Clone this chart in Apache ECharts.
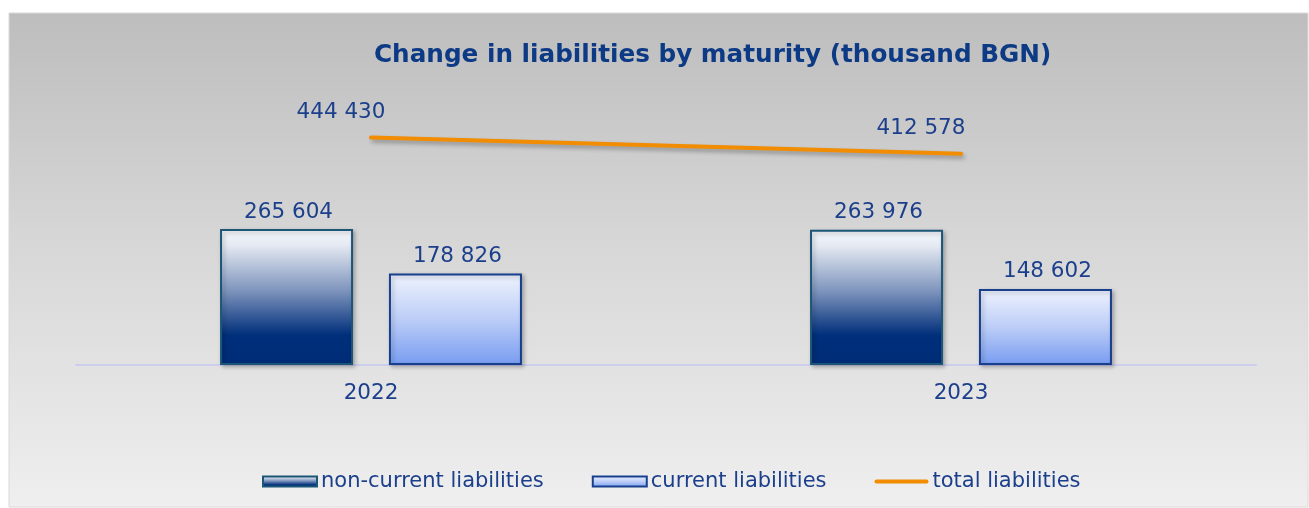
<!DOCTYPE html>
<html>
<head>
<meta charset="utf-8">
<script src="https://cdn.jsdelivr.net/npm/echarts@6/dist/echarts.min.js"></script>
<style>
  html, body { margin: 0; padding: 0; background: #fff; }
  #chart { width: 1309px; height: 508px; }
</style>
</head>
<body>
<div id="chart"></div>
<script>
// data
const years = ['2022', '2023'];
const nonCurrent = [265604, 263976];
const current = [178826, 148602];
const total = [444430, 412578];

const labelColor = '#1c3f8c';
const fontFamily = '"DejaVu Sans", Verdana, sans-serif';
// the total labels sit up-left of each line point, not quite evenly
const totalLabelShift = [[-30, -8], [-40, -8]];

// "265 604" style
const fmt = (v) => String(v).replace(/\B(?=(\d{3})+(?!\d))/g, ' ');

const chart = echarts.init(document.getElementById('chart'));

const barLabel = {
  show: true,
  position: 'top',
  distance: 6,
  offset: [2, 0],
  fontFamily,
  fontSize: 21.5,
  color: labelColor,
  formatter: (p) => fmt(p.value),
};

const option = {
  animation: false,
  textStyle: { fontFamily },
  graphic: [
    {
      type: 'rect',
      z: -10,
      shape: { x: 9, y: 13, width: 1299, height: 494 },
      style: {
        fill: new echarts.graphic.LinearGradient(0, 0, 0, 1, [
          { offset: 0, color: '#bdbdbd' },
          { offset: 0.45, color: '#d6d6d6' },
          { offset: 1, color: '#efefef' },
        ]),
        stroke: '#d9d9d9',
        lineWidth: 1,
      },
    },
  ],
  title: {
    text: 'Change in liabilities by maturity (thousand BGN)',
    left: 369,
    top: 38,
    textStyle: {
      fontFamily,
      fontSize: 24.7,
      fontWeight: 'bold',
      color: '#0d3a85',
    },
  },
  legend: {
    top: 466,
    left: 257,
    itemWidth: 54,
    itemHeight: 10,
    itemGap: 48,
    textStyle: { fontFamily, fontSize: 21, color: labelColor, padding: [0, 0, 0, -1] },
    data: [
      { name: 'non-current liabilities', icon: 'rect' },
      { name: 'current liabilities', icon: 'rect' },
      { name: 'total liabilities', icon: 'path://M2,0 L52,0 A2,2 0 0 1 52,4 L2,4 A2,2 0 0 1 2,0 Z' },
    ],
  },
  grid: {
    left: 76,
    right: 53,
    top: 109,
    bottom: 143,
  },
  xAxis: {
    type: 'category',
    data: years,
    axisLine: { lineStyle: { color: '#cdcdee', width: 2 } },
    axisTick: { show: false },
    axisLabel: { fontFamily, fontSize: 21.5, color: labelColor, margin: 17 },
  },
  yAxis: {
    type: 'value',
    min: 0,
    max: 500000,
    show: false,
    splitLine: { show: false },
  },
  series: [
    {
      name: 'non-current liabilities',
      type: 'bar',
      data: nonCurrent,
      barWidth: 133,
      barGap: '27%',
      itemStyle: {
        color: new echarts.graphic.LinearGradient(0, 0, 0, 1, [
          { offset: 0, color: '#f5f7fc' },
          { offset: 0.12, color: '#e4e9f2' },
          { offset: 0.45, color: '#7f95bd' },
          { offset: 0.78, color: '#002f7b' },
          { offset: 1, color: '#002c77' },
        ]),
        borderColor: '#1b5677',
        borderWidth: 2,
        shadowColor: 'rgba(0,0,0,0.25)',
        shadowBlur: 4,
        shadowOffsetX: 2,
        shadowOffsetY: 2,
      },
      label: barLabel,
    },
    {
      name: 'current liabilities',
      type: 'bar',
      data: current,
      barWidth: 133,
      itemStyle: {
        color: new echarts.graphic.LinearGradient(0, 0, 0, 1, [
          { offset: 0, color: '#eff3fd' },
          { offset: 0.5, color: '#bccdf7' },
          { offset: 1, color: '#789cf1' },
        ]),
        borderColor: '#173f8d',
        borderWidth: 2,
        shadowColor: 'rgba(0,0,0,0.25)',
        shadowBlur: 4,
        shadowOffsetX: 2,
        shadowOffsetY: 2,
      },
      label: barLabel,
    },
    {
      name: 'total liabilities',
      type: 'line',
      data: total.map((v, i) => ({ value: v, label: { offset: totalLabelShift[i] } })),
      symbol: 'circle',
      symbolSize: 3,
      itemStyle: { color: '#f28c00' },
      lineStyle: {
        color: '#f28c00',
        width: 4,
        cap: 'round',
        shadowColor: 'rgba(0,0,0,0.3)',
        shadowBlur: 4,
        shadowOffsetX: 2,
        shadowOffsetY: 3,
      },
      label: {
        show: true,
        position: 'top',
        fontFamily,
        fontSize: 21.5,
        color: labelColor,
        formatter: (p) => fmt(p.value),
      },
    },
  ],
};

chart.setOption(option);
</script>
</body>
</html>
